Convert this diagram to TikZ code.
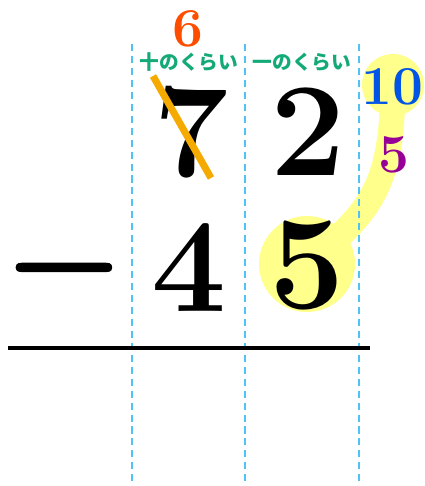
\documentclass[tikz,border=0pt]{standalone}
\usepackage{fontspec}
\newfontfamily\jpfont{Noto Sans CJK JP}
\newfontfamily\minusfont{lmroman10-bold}[Extension=.otf, FakeBold=1.5]
\usetikzlibrary{positioning}

\definecolor{sixred}{RGB}{255,77,0}
\definecolor{strikeorange}{RGB}{245,170,0}
\definecolor{tenblue}{RGB}{0,85,230}
\definecolor{fivepurple}{RGB}{150,0,150}
\definecolor{placegreen}{RGB}{20,170,120}
\definecolor{guideblue}{RGB}{80,195,245}
\definecolor{hiyellow}{RGB}{255,255,140}

\begin{document}
\begin{tikzpicture}[
  x=0.025cm, y=0.025cm,
  digit/.style={inner sep=0pt, font=\fontsize{95}{95}\selectfont\bfseries},
  small/.style={inner sep=0pt, font=\fontsize{39}{39}\selectfont\bfseries},
  place/.style={inner sep=0pt, text height=11pt, text depth=1pt, text=placegreen, font=\fontsize{14}{14}\selectfont\jpfont\bfseries},
  guide/.style={guideblue, line width=1.4pt, dash pattern=on 5pt off 3.5pt},
  hilite/.style={circle, fill=hiyellow, inner sep=0pt}
]
  \useasboundingbox (0,0) rectangle (425,486);

  % yellow marks behind the digits
  \node[hilite, minimum size=2.4cm] (hl5) at (307,222) {};
  \node[hilite, minimum size=1.55cm] (hl10) at (393,401) {};
  \draw[hiyellow, line width=18pt] (hl10.center) .. controls (392,300) and (372,275) .. (hl5.center);

  % column guides
  \foreach \gx in {132,245,359}
    \draw[guide] (\gx,442) -- (\gx,0);

  % numbers
  \node[digit] (seven) at (191,354) {7};
  \node[digit] (two) at (308,354) {2};
  \node[digit] (four) at (189,218) {4};
  \node[digit] (five) at (307,221) {5};
  \node[digit, font=\fontsize{88}{88}\selectfont\minusfont] (minussign) at (64,205) {−};
  \draw[line width=2.3pt] (8,138) -- (370,138);

  % borrowing
  \draw[strikeorange, line width=5pt] (153,410) -- (211,308);
  \node[small, text=sixred] (six) at (188,457) {6};
  \node[small, text=tenblue] (ten) at (392,399) {10};
  \node[small, text=fivepurple] (fiveb) at (394,331) {5};

  % place names
  \node[place] (tens) at (189,424) {十のくらい};
  \node[place] (ones) at (302,424) {一のくらい};
\end{tikzpicture}
\end{document}
